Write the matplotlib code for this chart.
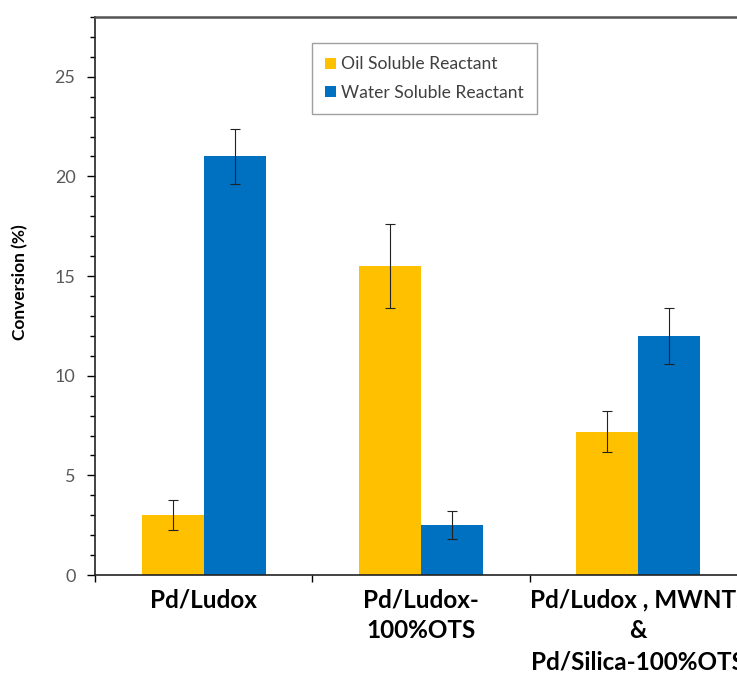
import numpy as np
import matplotlib.pyplot as plt
from matplotlib.ticker import MultipleLocator

plt.rcParams['font.family'] = ['Lato', 'DejaVu Sans']

# catalyst systems and measured conversions
catalysts = ["Pd/Ludox", "Pd/Ludox-\n100%OTS", "Pd/Ludox , MWNTs\n&\nPd/Silica-100%OTS"]
oil_conv = [3.0, 15.5, 7.2]
oil_err = [0.75, 2.1, 1.05]
water_conv = [21.0, 2.5, 12.0]
water_err = [1.4, 0.7, 1.4]
series_names = ["Oil Soluble Reactant", "Water Soluble Reactant"]

fig = plt.figure(figsize=(7.37, 6.73), dpi=100)
# axes runs a little past the right edge of the figure
ax = fig.add_axes([95 / 737, 1 - 575 / 673, 652 / 737, 558 / 673])

x = np.arange(len(catalysts))
w = 0.285
err_style = dict(ecolor='#222222', elinewidth=0.8, capsize=3.5, capthick=0.8)
ax.bar(x - w / 2, oil_conv, w, yerr=oil_err, color='#FFC000',
       label=series_names[0], error_kw=err_style)
ax.bar(x + w / 2, water_conv, w, yerr=water_err, color='#0070C0',
       label=series_names[1], error_kw=err_style)

ax.set_xlim(-0.5, len(catalysts) - 0.5)
ax.set_ylim(0, 28)

# category ticks sit on the boundaries, labels in the middle
ax.set_xticks(x - 0.5)
ax.set_xticklabels([])
ax.set_xticks(x, minor=True)
ax.set_xticklabels(catalysts, minor=True, fontsize=17.5, fontweight='bold',
                   linespacing=1.4)
ax.tick_params(axis='x', which='minor', length=0, pad=10)
ax.tick_params(axis='x', which='major', length=5, width=1, direction='out')

ax.yaxis.set_major_locator(MultipleLocator(5))
ax.yaxis.set_minor_locator(MultipleLocator(1))
ax.tick_params(axis='y', which='major', length=6, width=1, labelsize=13,
               labelcolor='#595959', pad=8)
ax.tick_params(axis='y', which='minor', length=3.5, width=1)

ax.set_ylabel("Conversion (%)", fontsize=12.5, fontweight='bold')
ax.yaxis.set_label_coords(-0.102, 0.525)

for side in ['left', 'bottom']:
    ax.spines[side].set_color('#222222')
    ax.spines[side].set_linewidth(1.2)
ax.spines['top'].set_color('#555555')
ax.spines['top'].set_linewidth(1.8)
ax.spines['right'].set_visible(False)

leg = ax.legend(loc='upper left', bbox_to_anchor=(0.333, 0.953), fontsize=12.6,
                frameon=True, fancybox=False, edgecolor='#888888',
                handlelength=0.6, handleheight=0.6, handletextpad=0.3,
                labelspacing=0.7, borderpad=0.75, borderaxespad=0)
for t in leg.get_texts():
    t.set_color('#404040')

fig.savefig("out.png", dpi=100)
